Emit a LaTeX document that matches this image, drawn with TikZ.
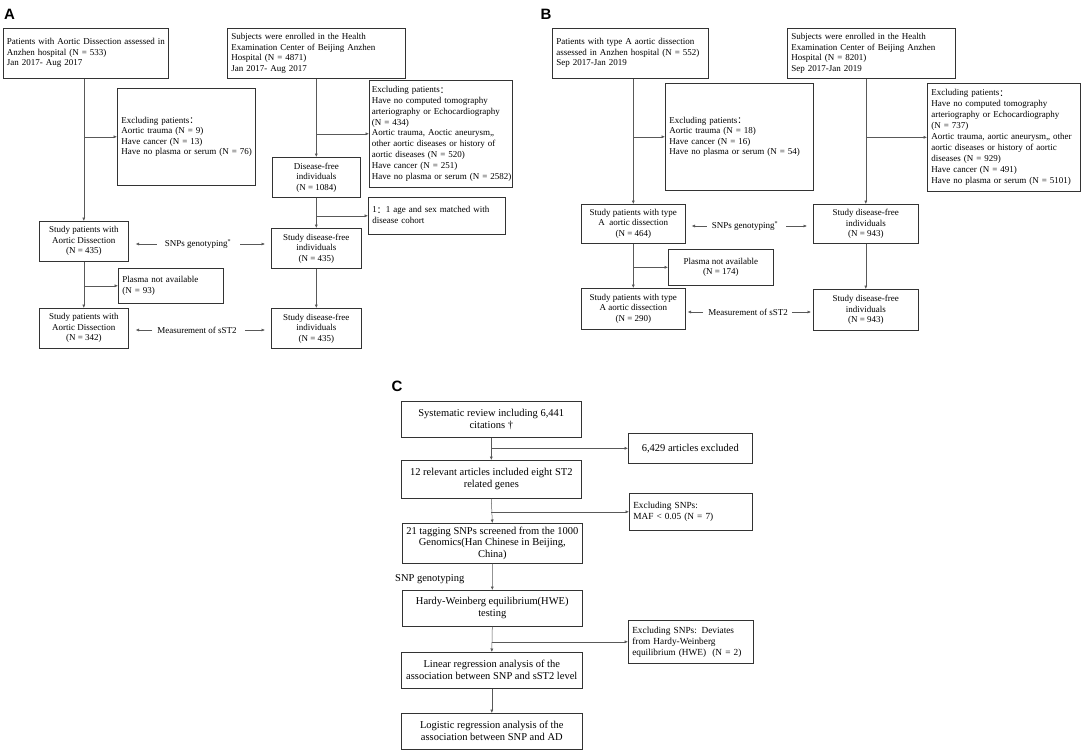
\documentclass[tikz,border=0pt]{standalone}
\usepackage{fontspec}
\setmainfont{Liberation Serif}
\newfontfamily\cjk{Noto Sans CJK SC}
\newfontfamily\labfont{Liberation Sans}
\usetikzlibrary{arrows.meta,calc}
\newcommand\boxfont{\fontsize{9}{10.5}\selectfont}
\newcommand\widefont{\fontsize{9}{10.9}\selectfont}
\newcommand\cfont{\fontsize{10.5}{12}\selectfont}
\newcommand\csmall{\fontsize{9.3}{11}\selectfont}
\newcommand\fcolon{\raisebox{-0.7pt}{\cjk ：}}
\newcommand\tl[1]{\begin{tabular}{@{}l@{}}#1\end{tabular}}
\begin{document}
\begin{tikzpicture}[x=1pt,y=-1pt,
  box/.style={draw=black!80, line width=0.6pt, font=\boxfont, inner xsep=4pt, inner ysep=1pt, anchor=north west, align=center},
  lbox/.style={box, align=left},
  arr/.style={draw=black!65, line width=0.5pt, -{Latex[length=3.5pt,width=3pt]}},
  lbl/.style={font=\boxfont, inner sep=0pt},
  panel/.style={font=\labfont\bfseries\fontsize{15}{15}\selectfont, inner sep=0pt}]
\useasboundingbox (0,0) rectangle (1084,750);

% ---------------- Panel A ----------------
\node[panel] (la) at (9.5,14) {A};
\node[lbox, inner xsep=3.5pt, minimum width=165, minimum height=50, text width=158] (a1) at (3,28)
  {\tl{Patients with Aortic Dissection assessed in\\Anzhen hospital (N = 533)\\Jan 2017- Aug 2017}};
\node[lbox, minimum width=178, minimum height=50, text width=170] (a2) at (227,28)
  {\tl{Subjects were enrolled in the Health\\Examination Center of Beijing Anzhen\\Hospital (N = 4871)\\Jan 2017- Aug 2017}};
\node[lbox, minimum width=138, minimum height=97, text width=130] (a3) at (117,88)
  {\tl{Excluding patients\fcolon\\Aortic trauma (N = 9)\\Have cancer (N = 13)\\Have no plasma or serum (N = 76)}};
\node[lbox, font=\widefont, inner xsep=2.5pt, minimum width=143, minimum height=107, text width=138] (a7) at (369,80)
  {\tl{Excluding patients\fcolon\\Have no computed tomography\\arteriography or Echocardiography\\(N = 434)\\Aortic trauma, Aoctic aneurysm,,\\other aortic diseases or history of\\aortic diseases (N = 520)\\Have cancer (N = 251)\\Have no plasma or serum (N = 2582)}};
\node[box, minimum width=88, minimum height=40] (a5) at (272,157)
  {Disease-free\\individuals\\(N = 1084)};
\node[lbox, minimum width=137, minimum height=37, text width=129] (a8) at (368,197)
  {\tl{1\fcolon1 age and sex matched with\\disease cohort}};
\node[box, minimum width=89, minimum height=40] (a4) at (39,221)
  {Study patients with\\Aortic Dissection\\(N = 435)};
\node[box, minimum width=90, minimum height=40] (a6) at (271,228)
  {Study disease-free\\individuals\\(N = 435)};
\node[lbox, minimum width=105, minimum height=35, text width=97] (ap) at (118,268)
  {\tl{Plasma not available\\(N = 93)}};
\node[box, minimum width=89, minimum height=40] (a9) at (39,308)
  {Study patients with\\Aortic Dissection\\(N = 342)};
\node[box, minimum width=90, minimum height=40] (a10) at (271,308)
  {Study disease-free\\individuals\\(N = 435)};
\node[lbl] (sa) at (198,244) {SNPs genotyping\textsuperscript{*}};
\node[lbl] (ma) at (197,330) {Measurement of sST2};

\draw[arr] (a4.north |- a1.south) -- (a4.north);
\draw[arr] (a4.north |- a3.west) -- (a3.west);
\draw[arr] (a2.south) -- (a5.north);
\draw[arr] (a2.south |- a7.west) -- (a7.west);
\draw[arr] (a5.south) -- (a6.north);
\draw[arr] (a5.south |- a8.west) -- (a8.west);
\draw[arr] (a4.south) -- (a9.north);
\draw[arr] (a4.south |- ap.west) -- (ap.west);
\draw[arr] (a6.south) -- (a10.north);
\draw[arr] ($(sa.west)+(-8,0)$) -- ($(a4.east |- sa.west)+(7,0)$);
\draw[arr] ($(sa.east)+(9,0)$) -- ($(a6.west |- sa.east)+(-6,0)$);
\draw[arr] ($(ma.west)+(-5,0)$) -- ($(a9.east |- ma.west)+(7,0)$);
\draw[arr] ($(ma.east)+(8,0)$) -- ($(a10.west |- ma.east)+(-6,0)$);

% ---------------- Panel B ----------------
\node[panel] (lb) at (546,14) {B};
\node[lbox, minimum width=156, minimum height=50, text width=148] (b1) at (552,28)
  {\tl{Patients with type A aortic dissection\\assessed in Anzhen hospital (N = 552)\\Sep 2017-Jan 2019}};
\node[lbox, minimum width=168, minimum height=50, text width=160] (b2) at (787,28)
  {\tl{Subjects were enrolled in the Health\\Examination Center of Beijing Anzhen\\Hospital (N = 8201)\\Sep 2017-Jan 2019}};
\node[lbox, minimum width=148, minimum height=107, text width=140] (b3) at (665,83)
  {\tl{Excluding patients\fcolon\\Aortic trauma (N = 18)\\Have cancer (N = 16)\\Have no plasma or serum (N = 54)}};
\node[lbox, font=\widefont, minimum width=153, minimum height=108, text width=145] (b7) at (927,83)
  {\tl{Excluding patients\fcolon\\Have no computed tomography\\arteriography or Echocardiography\\(N = 737)\\Aortic trauma, aortic aneurysm,, other\\aortic diseases or history of aortic\\diseases (N = 929)\\Have cancer (N = 491)\\Have no plasma or serum (N = 5101)}};
\node[box, minimum width=104, minimum height=39] (b4) at (581,204)
  {Study patients with type\\A\ \ aortic dissection\\(N = 464)};
\node[box, minimum width=105, minimum height=39] (b6) at (813,204)
  {Study disease-free\\individuals\\(N = 943)};
\node[box, minimum width=105, minimum height=36] (bp) at (668,249)
  {Plasma not available\\(N = 174)};
\node[box, minimum width=104, minimum height=41] (b8) at (581,288)
  {Study patients with type\\A aortic dissection\\(N = 290)};
\node[box, minimum width=105, minimum height=41] (b9) at (813,289)
  {Study disease-free\\individuals\\(N = 943)};
\node[lbl] (sb) at (745,226) {SNPs genotyping\textsuperscript{*}};
\node[lbl] (mb) at (748,312) {Measurement of sST2};

\draw[arr] (b4.north |- b1.south) -- (b4.north);
\draw[arr] (b4.north |- b3.west) -- (b3.west);
\draw[arr] (b6.north |- b2.south) -- (b6.north);
\draw[arr] (b6.north |- b7.west) -- (b7.west);
\draw[arr] (b4.south) -- (b8.north);
\draw[arr] (b4.south |- bp.west) -- (bp.west);
\draw[arr] (b6.south) -- (b9.north);
\draw[arr] ($(sb.west)+(-5,0)$) -- ($(b4.east |- sb.west)+(6,0)$);
\draw[arr] ($(sb.east)+(8,0)$) -- ($(b6.west |- sb.east)+(-6,0)$);
\draw[arr] ($(mb.west)+(-5,0)$) -- ($(b8.east |- mb.west)+(2,0)$);
\draw[arr] ($(mb.east)+(4,0)$) -- ($(b9.west |- mb.east)+(-2,0)$);

% ---------------- Panel C ----------------
\node[panel] (lc) at (397,386) {C};
\node[box, font=\cfont, minimum width=180, minimum height=36] (c1) at (401,401)
  {Systematic review including 6,441\\citations †};
\node[box, font=\cfont, minimum width=124, minimum height=30] (c2) at (628,433)
  {6,429 articles excluded};
\node[box, font=\cfont, minimum width=180, minimum height=38] (c3) at (401,460)
  {12 relevant articles included eight ST2\\related genes};
\node[lbox, font=\csmall, minimum width=123, minimum height=37, text width=115] (c4) at (629,493)
  {\tl{Excluding SNPs:\\MAF < 0.05 (N = 7)}};
\node[box, font=\fontsize{10.5}{11.2}\selectfont, minimum width=180, minimum height=40] (c5) at (402,523)
  {21 tagging SNPs screened from the 1000\\Genomics(Han Chinese in Beijing,\\China)};
\node[lbl, font=\cfont, anchor=west] (sg) at (395,579) {SNP genotyping};
\node[box, font=\cfont, minimum width=180, minimum height=36] (c6) at (402,590)
  {Hardy-Weinberg equilibrium(HWE)\\testing};
\node[lbox, font=\csmall, minimum width=125, minimum height=43, text width=117] (c7) at (628,620)
  {\tl{Excluding SNPs: Deviates\\from Hardy-Weinberg\\equilibrium (HWE)\ \ (N = 2)}};
\node[box, font=\cfont, minimum width=181, minimum height=36] (c8) at (401,652)
  {Linear regression analysis of the\\association between SNP and sST2 level};
\node[box, font=\cfont, minimum width=181, minimum height=36] (c9) at (401,713)
  {Logistic regression analysis of the\\association between SNP and AD};

\draw[arr] (c1.south) -- (c3.north);
\draw[arr] (c1.south |- c2.west) -- (c2.west);
\draw[arr] (c3.south) -- (c5.north);
\draw[arr] (c3.south |- c4.west) -- (c4.west);
\draw[arr] (c5.south) -- (c6.north);
\draw[arr] (c6.south) -- (c8.north);
\draw[arr] (c6.south |- c7.west) -- (c7.west);
\draw[arr] (c8.south) -- (c9.north);
\end{tikzpicture}
\end{document}
